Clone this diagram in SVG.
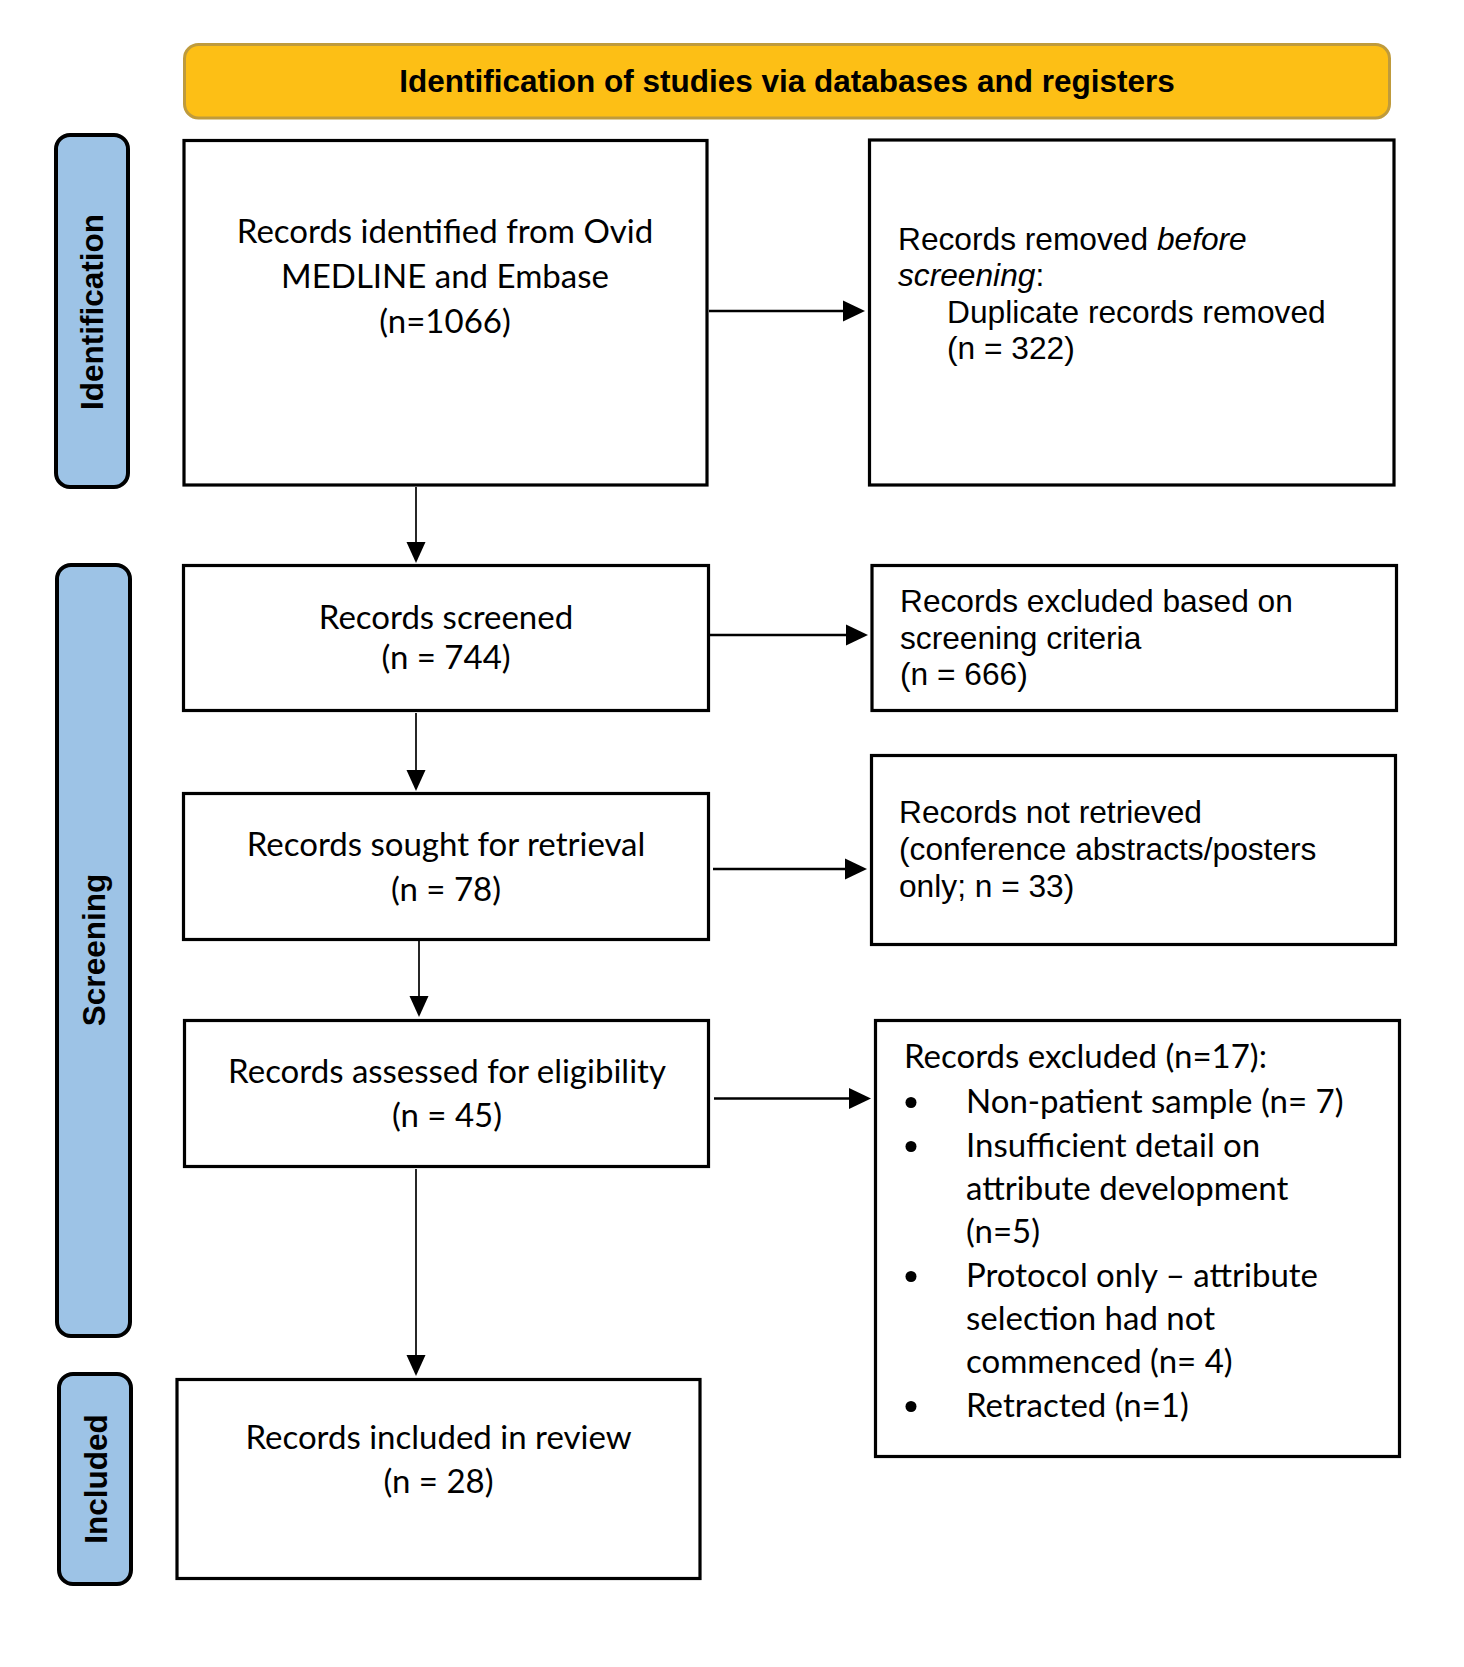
<svg xmlns="http://www.w3.org/2000/svg" width="1464" height="1667" viewBox="0 0 1464 1667">
<defs>
<style>
.bg{fill:#ffffff}
.box{fill:#ffffff;stroke:#000000;stroke-width:3.2}
.tab{fill:#9DC3E6;stroke:#000000;stroke-width:4}
.hdr{fill:#FDBF15;stroke:#BF9B3C;stroke-width:3}
.hdrt{font-family:"Liberation Sans",Arial,sans-serif;font-weight:bold;font-size:31.5px;fill:#000000}
.tabt{font-family:"Liberation Sans",Arial,sans-serif;font-weight:bold;font-size:31.5px;fill:#000000}
.c{font-family:Lato,"Noto Sans",sans-serif;font-size:33px;fill:#000000}
.a{font-family:"Liberation Sans",Arial,sans-serif;font-size:31.7px;fill:#000000}
.dot{fill:#000000}
.conn{stroke:#000000;fill:none}
.h{stroke-width:2.4}
.v{stroke-width:1.7}
.head{fill:#000000;stroke:none}
</style>
</defs>
<rect class="bg" x="0" y="0" width="1464" height="1667"/>

<g id="header">
<rect class="hdr" x="184.5" y="44.5" width="1205" height="73.5" rx="14" ry="14"/>
<text class="hdrt" x="787" y="92" text-anchor="middle">Identification of studies via databases and registers</text>
</g>

<g id="tab-identification">
<rect class="tab" x="56" y="135" width="72" height="352" rx="14" ry="14"/>
<text class="tabt" transform="translate(103,312) rotate(-90)" text-anchor="middle">Identification</text>
</g>
<g id="tab-screening">
<rect class="tab" x="57" y="565" width="73" height="771" rx="14" ry="14"/>
<text class="tabt" transform="translate(105,950) rotate(-90)" text-anchor="middle">Screening</text>
</g>
<g id="tab-included">
<rect class="tab" x="59" y="1374" width="72" height="210" rx="14" ry="14"/>
<text class="tabt" transform="translate(107,1479) rotate(-90)" text-anchor="middle">Included</text>
</g>

<g id="connectors">
<line class="conn h" x1="709" y1="311" x2="845" y2="311"/>
<polygon class="head" points="843,300.5 865,311 843,321.5"/>
<line class="conn h" x1="710" y1="635" x2="848" y2="635"/>
<polygon class="head" points="846,624.5 868,635 846,645.5"/>
<line class="conn h" x1="713" y1="869" x2="847" y2="869"/>
<polygon class="head" points="845,858.5 867,869 845,879.5"/>
<line class="conn h" x1="714" y1="1098.5" x2="851" y2="1098.5"/>
<polygon class="head" points="849,1088 871,1098.5 849,1109"/>
<line class="conn v" x1="416" y1="487" x2="416" y2="545"/>
<polygon class="head" points="406.5,542 416,563 425.5,542"/>
<line class="conn v" x1="416" y1="713" x2="416" y2="773"/>
<polygon class="head" points="406.5,770 416,791 425.5,770"/>
<line class="conn v" x1="419" y1="941" x2="419" y2="999"/>
<polygon class="head" points="409.5,996 419,1017 428.5,996"/>
<line class="conn v" x1="416" y1="1169" x2="416" y2="1358"/>
<polygon class="head" points="406.5,1355 416,1376 425.5,1355"/>
</g>

<g id="box-identified">
<rect class="box" x="184" y="140.5" width="523" height="344.5"/>
<text class="c" x="445" y="243" text-anchor="middle">Records identified from Ovid</text>
<text class="c" x="445" y="288" text-anchor="middle">MEDLINE and Embase</text>
<text class="c" x="445" y="333" text-anchor="middle">(n=1066)</text>
</g>

<g id="box-removed">
<rect class="box" x="869.5" y="140" width="524.5" height="345"/>
<text class="a" x="898" y="250">Records removed <tspan font-style="italic">before</tspan></text>
<text class="a" x="898" y="286"><tspan font-style="italic">screening</tspan>:</text>
<text class="a" x="947" y="322.5">Duplicate records removed</text>
<text class="a" x="947" y="359">(n = 322)</text>
</g>

<g id="box-screened">
<rect class="box" x="183.5" y="565.5" width="525" height="145"/>
<text class="c" x="446" y="628.5" text-anchor="middle">Records screened</text>
<text class="c" x="446" y="668.5" text-anchor="middle">(n = 744)</text>
</g>

<g id="box-excluded-screening">
<rect class="box" x="872" y="565.5" width="524.5" height="145"/>
<text class="a" x="900" y="612">Records excluded based on</text>
<text class="a" x="900" y="648.5">screening criteria</text>
<text class="a" x="900" y="685">(n = 666)</text>
</g>

<g id="box-sought">
<rect class="box" x="183.5" y="793.5" width="525" height="146"/>
<text class="c" x="446" y="856" text-anchor="middle">Records sought for retrieval</text>
<text class="c" x="446" y="901" text-anchor="middle">(n = 78)</text>
</g>

<g id="box-not-retrieved">
<rect class="box" x="871.5" y="755.5" width="524" height="189"/>
<text class="a" x="899" y="823">Records not retrieved</text>
<text class="a" x="899" y="860">(conference abstracts/posters</text>
<text class="a" x="899" y="897">only; n = 33)</text>
</g>

<g id="box-assessed">
<rect class="box" x="184.5" y="1020.5" width="524" height="146"/>
<text class="c" x="447" y="1083" text-anchor="middle">Records assessed for eligibility</text>
<text class="c" x="447" y="1127" text-anchor="middle">(n = 45)</text>
</g>

<g id="box-excluded">
<rect class="box" x="875.5" y="1020.5" width="524" height="436"/>
<text class="c" x="904" y="1068">Records excluded (n=17):</text>
<circle class="dot" cx="911" cy="1102.5" r="5.5"/>
<text class="c" x="966" y="1113">Non-patient sample (n= 7)</text>
<circle class="dot" cx="911" cy="1146.5" r="5.5"/>
<text class="c" x="966" y="1157">Insufficient detail on</text>
<text class="c" x="966" y="1200">attribute development</text>
<text class="c" x="966" y="1243">(n=5)</text>
<circle class="dot" cx="911" cy="1276.5" r="5.5"/>
<text class="c" x="966" y="1287">Protocol only – attribute</text>
<text class="c" x="966" y="1330">selection had not</text>
<text class="c" x="966" y="1373">commenced (n= 4)</text>
<circle class="dot" cx="911" cy="1406.5" r="5.5"/>
<text class="c" x="966" y="1417">Retracted (n=1)</text>
</g>

<g id="box-included">
<rect class="box" x="177" y="1379.5" width="523" height="199"/>
<text class="c" x="438.5" y="1449" text-anchor="middle">Records included in review</text>
<text class="c" x="438.5" y="1493" text-anchor="middle">(n = 28)</text>
</g>
</svg>
